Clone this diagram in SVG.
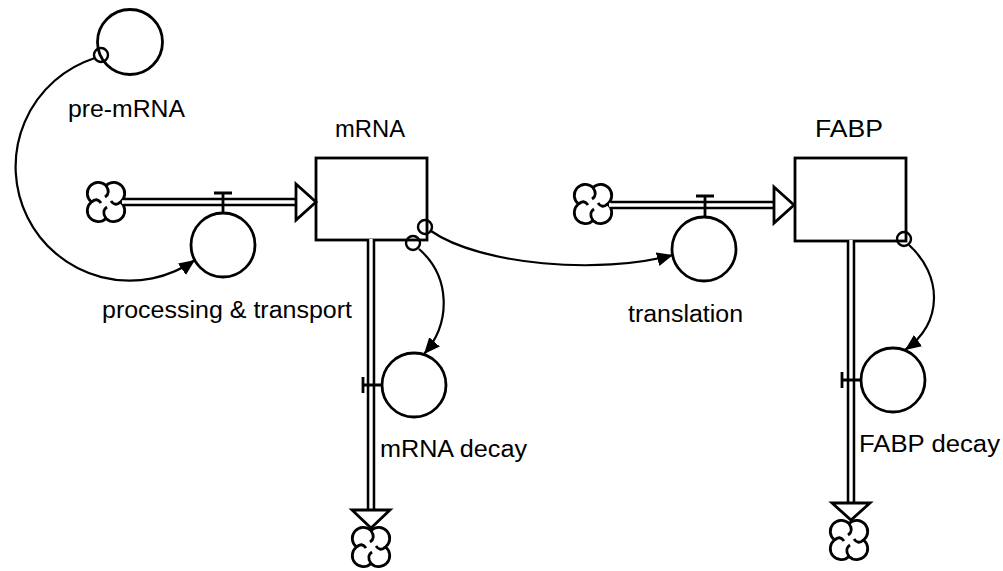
<svg xmlns="http://www.w3.org/2000/svg" xmlns:xlink="http://www.w3.org/1999/xlink" width="1003" height="571" viewBox="0 0 1003 571">
<style>
.ln{fill:none;stroke:#000;stroke-width:2.8}
.wf{fill:#fff;stroke:#000;stroke-width:2.8}
.po{fill:none;stroke:#000;stroke-width:8.5}
.pi{fill:none;stroke:#fff;stroke-width:3.4}
.lk{fill:none;stroke:#000;stroke-width:2.2}
.sm{fill:none;stroke:#000;stroke-width:2.4}
.tx{font-family:"Liberation Sans",Arial,Helvetica,sans-serif;font-size:23px;fill:#000}
</style>
<defs>
<marker id="ah" markerUnits="userSpaceOnUse" markerWidth="20" markerHeight="16" refX="16" refY="7" orient="auto">
<path d="M0 0 L16 7 L0 14 Z" fill="#000"/>
</marker>
<g id="cloud">
<path class="wf" d="M0 -16.5 A11 11 0 1 1 14.5 0 A11 11 0 1 1 0 16.5 A11 11 0 1 1 -14.5 0 A11 11 0 1 1 0 -16.5 Z"/>
<path class="ln" d="M0 -16.5 Q5 -9 -1 -5 M14.5 0 Q9 5 5 -1 M0 16.5 Q-5 9 1 5 M-14.5 0 Q-9 -5 -5 1"/>
</g>
</defs>
<rect width="1003" height="571" fill="#fff"/>

<g id="connectors">
<path class="lk" d="M95 58 A114 114 0 1 0 195 260" marker-end="url(#ah)"/>
<path class="lk" d="M431 231 C480 265 600 275 673 255" marker-end="url(#ah)"/>
<path class="lk" d="M419 249 C450 276 452 322 424 354" marker-end="url(#ah)"/>
<path class="lk" d="M909 245 C942 275 944 322 905 350" marker-end="url(#ah)"/>
</g>

<g id="flow-processing">
<use xlink:href="#cloud" x="106" y="202"/>
<path class="po" d="M124 202 H297"/>
<path class="pi" d="M122 202 H299"/>
<path class="wf" d="M296 184 L316 202 L296 220 Z"/>
<path class="ln" d="M214 193 H232 M223 193 V213"/>
</g>
<g id="processing">
<circle class="ln" cx="223" cy="245" r="32"/>
<text class="tx" x="102" y="318" textLength="250" lengthAdjust="spacingAndGlyphs">processing &amp; transport</text>
</g>

<g id="pre-mRNA">
<circle class="ln" cx="130" cy="42" r="32.5"/>
<circle class="sm" cx="101" cy="55" r="7"/>
<text class="tx" x="68" y="117" textLength="117" lengthAdjust="spacingAndGlyphs">pre-mRNA</text>
</g>

<g id="mRNA">
<rect class="ln" x="316" y="158" width="111" height="82"/>
<circle class="sm" cx="425" cy="227" r="7"/>
<circle class="sm" cx="413" cy="243" r="7"/>
<text class="tx" x="335" y="137" textLength="70" lengthAdjust="spacingAndGlyphs">mRNA</text>
</g>

<g id="flow-mRNA-decay">
<path class="po" d="M371 241 V511"/>
<path class="pi" d="M371 239 V513"/>
<path class="wf" d="M352 510 L390 510 L371 528 Z"/>
<use xlink:href="#cloud" x="371" y="547"/>
<path class="ln" d="M363 377 V393 M363 385 H382"/>
</g>
<g id="mRNA-decay">
<circle class="ln" cx="414" cy="385" r="32"/>
<text class="tx" x="380" y="457" textLength="147" lengthAdjust="spacingAndGlyphs">mRNA decay</text>
</g>

<g id="flow-translation">
<use xlink:href="#cloud" x="593" y="204"/>
<path class="po" d="M611 205 H775"/>
<path class="pi" d="M609 205 H777"/>
<path class="wf" d="M774 187 L794 205 L774 223 Z"/>
<path class="ln" d="M696 196 H714 M705 196 V217"/>
</g>
<g id="translation">
<circle class="ln" cx="704" cy="249" r="32"/>
<text class="tx" x="628" y="322" textLength="115" lengthAdjust="spacingAndGlyphs">translation</text>
</g>

<g id="FABP">
<rect class="ln" x="795" y="158" width="111" height="83"/>
<circle class="sm" cx="904" cy="239" r="7"/>
<text class="tx" x="815" y="137" textLength="68" lengthAdjust="spacingAndGlyphs">FABP</text>
</g>

<g id="flow-FABP-decay">
<path class="po" d="M851 242 V504"/>
<path class="pi" d="M851 240 V506"/>
<path class="wf" d="M832 503 L870 503 L851 520 Z"/>
<use xlink:href="#cloud" x="849" y="540"/>
<path class="ln" d="M842 372 V388 M842 380 H861"/>
</g>
<g id="FABP-decay">
<circle class="ln" cx="893" cy="380" r="32"/>
<text class="tx" x="859" y="452" textLength="141" lengthAdjust="spacingAndGlyphs">FABP decay</text>
</g>
</svg>
